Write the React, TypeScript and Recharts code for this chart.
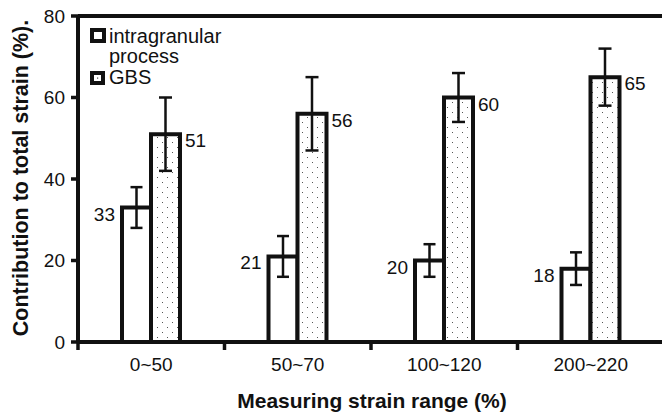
import React from 'react'
import {
  BarChart,
  Bar,
  XAxis,
  YAxis,
  ErrorBar,
  LabelList,
  Label,
  ReferenceLine,
} from 'recharts'

const categories = ['0~50', '50~70', '100~120', '200~220']
const intragranular = [33, 21, 20, 18]
const intragranularError = [5, 5, 4, 4]
const gbs = [51, 56, 60, 65]
const gbsError = [9, 9, 6, 7]
const yTicks = [0, 20, 40, 60, 80]

const data = categories.map((range, i) => ({
  range,
  intra: intragranular[i],
  intraErr: intragranularError[i],
  gbs: gbs[i],
  gbsErr: gbsError[i],
}))

const FONT = '"Liberation Sans", Arial, Helvetica, sans-serif'
const INK = '#111'
const TICK_SIZE = 8
const TICK_MARGIN = 8

function CategoryTick(props: any) {
  const { x, y, payload, width, visibleTicksCount } = props
  const half =
    payload && typeof payload.offset === 'number' && payload.offset > 0
      ? payload.offset
      : width / (visibleTicksCount || 4) / 2
  const axisY = y - TICK_SIZE - TICK_MARGIN
  return (
    <g>
      <line
        x1={x - half}
        x2={x - half}
        y1={axisY}
        y2={axisY + TICK_SIZE}
        stroke={INK}
        strokeWidth={3.5}
      />
      <text
        x={x}
        y={y}
        dy="0.71em"
        textAnchor="middle"
        fill={INK}
        fontSize={19}
        fontFamily={FONT}
      >
        {payload.value}
      </text>
    </g>
  )
}

function leftLabel(props: any) {
  const { x, y, value } = props
  return (
    <text x={x - 7} y={y + 13} textAnchor="end" fill={INK} fontSize={19} fontFamily={FONT}>
      {value}
    </text>
  )
}

function rightLabel(props: any) {
  const { x, y, width, value } = props
  return (
    <text x={x + width + 5} y={y + 13} textAnchor="start" fill={INK} fontSize={19} fontFamily={FONT}>
      {value}
    </text>
  )
}

function Legend() {
  return (
    <svg
      width={662}
      height={416}
      style={{ position: 'absolute', left: 0, top: 0, pointerEvents: 'none' }}
    >
      <rect x={92} y={30} width={12} height={11} fill="#fff" stroke={INK} strokeWidth={4} />
      <text x={109} y={42.5} fontSize={20} fontFamily={FONT} fill={INK}>
        intragranular
      </text>
      <text x={109} y={63} fontSize={20} fontFamily={FONT} fill={INK}>
        process
      </text>
      <rect x={92} y={73} width={11} height={10} fill="#fff" stroke={INK} strokeWidth={4} />
      <rect x={97} y={77.5} width={1.2} height={1.2} fill="#444" />
      <text x={109} y={84} fontSize={20} fontFamily={FONT} fill={INK}>
        GBS
      </text>
    </svg>
  )
}

export default function App() {
  return (
    <div
      style={{
        position: 'absolute',
        left: 0,
        top: 0,
        width: 662,
        height: 416,
        overflow: 'hidden',
        background: '#fff',
      }}
    >
      <BarChart
        width={664}
        height={416}
        data={data}
        margin={{ top: 16, right: 0, bottom: 0, left: 0 }}
        barGap={0}
        barCategoryGap={0}
      >
        <defs>
          <pattern id="dots" width={10} height={10} patternUnits="userSpaceOnUse">
            <rect width={10} height={10} fill="#fff" />
            <rect x={2} y={2} width={1} height={1} fill="#555" />
            <rect x={7} y={7} width={1} height={1} fill="#555" />
          </pattern>
        </defs>
        <XAxis
          dataKey="range"
          type="category"
          height={74}
          axisLine={{ stroke: INK, strokeWidth: 4 }}
          tickLine={false}
          tickSize={TICK_SIZE}
          tickMargin={TICK_MARGIN}
          tick={<CategoryTick />}
          interval={0}
        >
          <Label
            content={(p: any) => {
              const vb = p.viewBox
              return (
                <text
                  x={vb.x + vb.width / 2 + 1}
                  y={vb.y + 66}
                  textAnchor="middle"
                  fontSize={21}
                  fontWeight="bold"
                  fontFamily={FONT}
                  fill={INK}
                >
                  Measuring strain range (%)
                </text>
              )
            }}
          />
        </XAxis>
        <YAxis
          width={78}
          domain={[0, 80]}
          ticks={yTicks}
          interval={0}
          axisLine={{ stroke: INK, strokeWidth: 4 }}
          tickLine={{ stroke: INK, strokeWidth: 3.5 }}
          tickSize={7}
          tickMargin={6}
          tick={{ fill: INK, fontSize: 19, fontFamily: FONT }}
        >
          <Label
            content={(p: any) => {
              const vb = p.viewBox
              const cx = 28
              const cy = vb.y + vb.height / 2 - 1
              return (
                <text
                  x={cx}
                  y={cy}
                  transform={`rotate(-90, ${cx}, ${cy})`}
                  textAnchor="middle"
                  fontSize={21.5}
                  fontWeight="bold"
                  fontFamily={FONT}
                  fill={INK}
                >
                  Contribution to total strain (%).
                </text>
              )
            }}
          />
        </YAxis>
        <ReferenceLine y={80} stroke={INK} strokeWidth={4} />
        <Bar
          dataKey="intra"
          barSize={29}
          fill="#fff"
          stroke={INK}
          strokeWidth={4}
          isAnimationActive={false}
        >
          <ErrorBar dataKey="intraErr" width={6} stroke={INK} strokeWidth={2.5} direction="y" />
          <LabelList dataKey="intra" content={leftLabel} />
        </Bar>
        <Bar
          dataKey="gbs"
          barSize={29}
          fill="url(#dots)"
          stroke={INK}
          strokeWidth={4}
          isAnimationActive={false}
        >
          <ErrorBar dataKey="gbsErr" width={6.5} stroke={INK} strokeWidth={2.5} direction="y" />
          <LabelList dataKey="gbs" content={rightLabel} />
        </Bar>
      </BarChart>
      <Legend />
    </div>
  )
}
